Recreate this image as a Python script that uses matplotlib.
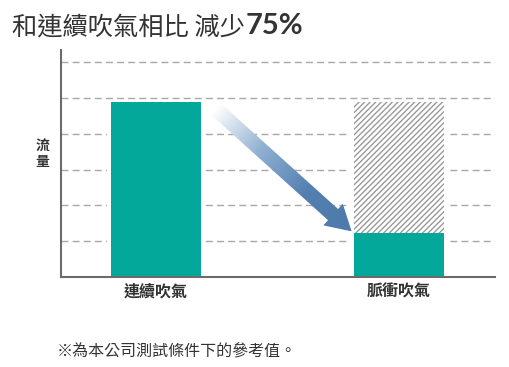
import matplotlib.pyplot as plt
import numpy as np
from matplotlib.patches import Polygon
from matplotlib.colors import LinearSegmentedColormap

plt.rcParams['font.family'] = ['Noto Sans CJK TC', 'DejaVu Sans']

categories = ["連續吹氣", "脈衝吹氣"]
flow = [4.9, 1.225]
baseline = [4.9, 4.9]
grid_levels = [1, 2, 3, 4, 5, 6]

green = "#03a89b"
txt = "#333333"

fig = plt.figure(figsize=(5.1, 3.67), dpi=100)
ax = fig.add_axes([61 / 510, 1 - 277 / 367, 434 / 510, 227 / 367])

x = np.arange(len(categories))
w = 0.37

for g in grid_levels:
    ax.axhline(g, color="#a8a8a8", lw=1.0, ls=(0, (5, 3)), zorder=1)

# white margins so the gridlines stop short of the bars
ax.bar(x, baseline, width=w + 0.035, color="white", zorder=2)
ax.bar(x[1], baseline[1], width=w, facecolor="white", edgecolor="#9a9a9a",
       hatch="//////", lw=0, zorder=3)
ax.bar(x, flow, width=w, color=green, zorder=4)

ax.set_xlim(-0.391, 1.395)
ax.set_ylim(0, 6.34)
ax.set_xticks(x)
ax.set_xticklabels(categories, fontsize=11.5, fontweight="bold", color=txt)
ax.tick_params(axis="x", length=0, pad=5)
ax.set_yticks([])
for s in ["top", "right"]:
    ax.spines[s].set_visible(False)
for s in ["left", "bottom"]:
    ax.spines[s].set_color("#6b6b6b")
    ax.spines[s].set_linewidth(1.5)
    ax.spines[s].set_zorder(5)

ax.set_ylabel("流\n量", rotation=0, fontsize=10, fontweight="bold",
              color=txt, labelpad=9, va="center", linespacing=1.05)
ax.yaxis.set_label_coords(-0.043, 0.54)

# gradient arrow from first bar top to second bar top
fig.canvas.draw()
T = ax.transData
p0 = T.transform((x[0] + w / 2 + 0.06, flow[0] - 0.2))
p1 = T.transform((x[1] - w / 2 - 0.01, flow[1] + 0.05))
d = p1 - p0
L = np.hypot(*d)
u = d / L
n = np.array([-u[1], u[0]])
sw, hw, hl = 7.5, 14.5, 25
pts = [p0 + n * sw, p0 + u * (L - hl) + n * sw, p0 + u * (L - hl) + n * hw, p1,
       p0 + u * (L - hl) - n * hw, p0 + u * (L - hl) - n * sw, p0 - n * sw]
pts_data = T.inverted().transform(np.array(pts))
arrow = Polygon(pts_data, closed=True, facecolor="none", edgecolor="none", zorder=6)
ax.add_patch(arrow)

xmin, ymin = pts_data.min(axis=0)
xmax, ymax = pts_data.max(axis=0)
gx = np.linspace(xmin, xmax, 200)
gy = np.linspace(ymax, ymin, 200)
GX, GY = np.meshgrid(gx, gy)
disp = T.transform(np.column_stack([GX.ravel(), GY.ravel()]))
t = ((disp - p0) @ u / L).reshape(GX.shape)
cmap = LinearSegmentedColormap.from_list("arr", ["#ffffff", "#8fb0d2", "#5480b1", "#4d79ab"])
im = ax.imshow(np.clip(t, 0, 1), extent=(xmin, xmax, ymin, ymax), cmap=cmap,
               aspect="auto", zorder=6, vmin=0, vmax=1, interpolation="bilinear")
im.set_clip_path(arrow)
ax.set_xlim(-0.391, 1.395)
ax.set_ylim(0, 6.34)

t1 = fig.text(12 / 510, 1 - 34 / 367, "和連續吹氣相比 減少", fontsize=18.2, color=txt)
fig.canvas.draw()
bb = t1.get_window_extent()
fig.text(bb.x1 / 510 + 0.001, 1 - 34 / 367, "75%", fontsize=21, fontweight="bold",
         color=txt, family=["Lato", "DejaVu Sans"])
fig.text(57 / 510, 1 - 356 / 367, "※為本公司測試條件下的參考值。", fontsize=11.5, color=txt)

fig.savefig("out.png", dpi=100)
